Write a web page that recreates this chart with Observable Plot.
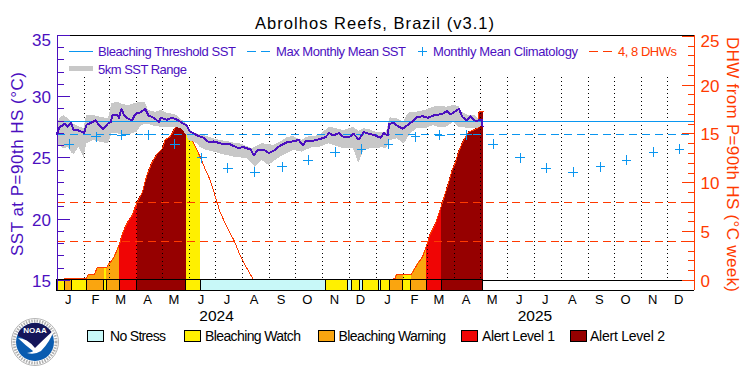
<!DOCTYPE html>
<html><head><meta charset="utf-8">
<script src="https://cdn.jsdelivr.net/npm/d3@7"></script>
<script src="https://cdn.jsdelivr.net/npm/@observablehq/plot@0.6"></script>
<style>html,body{margin:0;padding:0;background:#fff}#c{width:750px;height:375px;overflow:hidden}svg{display:block}</style>
</head><body><div id="c"></div>
<script>
// Days are counted from 2024-01-01.
const sstDays = [0,3,6,9,12,16,19,25,31,34,38,44,48,53,58,62,63,69,71,74,77,82,86,90,96,101,105,111,117,119,126,132,138,144,149,152,161,168,174,180,189,199,207,214,222,226,230,237,243,249,256,264,272,277,282,285,295,302,308,312,317,323,329,337,340,346,352,358,365,371,375,379,381,386,390,396,400,405,413,419,425,432,442,447,451,461,465,470,474,480,487,488];
const sstValues = [26.97,27.52,27.65,27.79,27.57,27.84,27.3,27.24,27.03,27.73,27.84,28.06,27.73,27.33,27.79,27.93,28.47,28.55,28.28,29.01,28.47,28.2,28.06,28.6,28.74,29.01,28.47,28.28,27.93,28.28,28.12,28.28,28.12,27.84,27.65,27.19,26.84,26.65,26.29,26.35,26.16,26.1,25.83,25.88,25.69,25.2,25.67,25.69,25.39,25.61,26.02,26.29,26.37,26.48,26.02,26.37,26.43,26.56,26.7,27.03,26.84,27.03,26.7,26.76,26.97,26.51,27.11,26.97,26.84,26.65,27.03,26.84,27.79,27.87,27.65,27.38,27.57,27.84,28.33,28.41,28.28,28.47,28.6,28.82,28.55,29.01,28.33,28.06,28.39,28.01,28.12,27.57];

const rangeDays = [0,3,8,13,17,20,25,31,34,42,50,59,63,69,75,82,86,92,97,101,105,113,119,126,134,138,143,149,151,157,161,164,172,180,187,195,203,210,218,224,227,235,243,248,256,264,271,281,287,294,302,312,321,329,340,346,352,359,365,373,378,382,390,398,401,405,413,422,432,438,447,455,461,464,472,480,485,488];
const rangeHigh = [27.57,28.2,28.47,28.2,27.93,27.73,27.57,27.38,28.47,28.47,28.33,28.2,29.42,29.56,29.37,29.29,29.37,29.48,29.53,29.56,28.88,28.74,28.88,28.66,28.55,28.47,28.12,27.73,27.38,27.03,26.97,26.89,26.76,26.56,26.43,26.35,26.21,26.16,25.94,25.75,25.88,26.16,26.1,26.02,26.29,26.65,26.76,26.43,26.7,26.76,26.84,27.52,27.38,27.24,27.52,27.19,27.38,27.3,27.11,27.11,27.11,28.28,28.2,27.93,28.47,28.74,28.74,28.88,29.15,29.2,29.15,29.29,29.2,28.74,28.47,28.47,28.0,27.9];
const rangeLow = [26.16,26.02,25.75,25.88,25.39,25.29,25.88,25.07,26.16,26.43,26.29,26.16,26.97,26.97,26.92,26.89,26.97,27.11,27.65,27.73,27.73,27.57,27.52,27.52,27.52,27.46,27.38,26.84,26.43,26.29,26.16,25.88,25.61,25.48,25.34,25.2,25.07,25.01,24.93,24.52,24.25,24.8,24.39,24.66,25.07,25.34,25.61,25.48,25.67,25.88,25.88,26.16,25.94,25.75,25.75,24.58,25.61,25.75,25.75,25.83,25.75,26.43,26.56,26.16,26.43,26.97,27.38,27.38,27.65,27.46,27.52,27.93,27.52,27.52,27.38,27.38,27.5,27.6];

const dhwDays = [8,9,17,34,36,43,46,54,57,59,65,72,75,80,86,92,98,103,109,115,121,124,130,136,140,148,151,157,165,168,176,180,187,195,203,210,218,226,381,382,388,389,397,406,409,413,419,424,428,434,441,448,453,457,461,466,472,480,483,484,489];
const dhwValues = [0,0.24,0.24,0.24,0.64,0.64,1.3,1.3,1.3,1.64,2.3,3.8,4.78,5.8,6.65,8,9.04,10.75,12.1,12.97,13.5,14.4,14.74,15.7,15.8,15.6,15,14,12.5,11.8,10.2,9.04,7,5.45,4.1,2.56,1.2,0,0,0.1,0.2,0.58,0.58,0.58,1.02,1.64,2.4,3.6,4.78,5.8,7.7,9.7,11.25,12.1,13.3,14.3,15.2,15.5,15.6,17.3,17.3];

const climDates = ["01-15","02-15","03-15","04-15","05-15","06-15","07-15","08-15","09-15","10-15","11-15","12-15"];
const climValues = [26.13,26.73,26.86,26.9,26.13,25.0,24.17,23.84,24.28,24.82,25.47,25.72];
const years = [2024,2025];
const monthLetters = ["J","F","M","A","M","J","J","A","S","O","N","D"];

const statusNames = ["No Stress","Bleaching Watch","Bleaching Warning","Alert Level 1","Alert Level 2"];
const statusColors = ["#c8f8f8","#fff000","#faa50f","#f00505","#960000"];
const stripStart = [0,9,17,34,54,57,72,92,148,165,308,334,338,347,351,369,371,382,397,406,424,441];
const stripEnd   = [9,17,34,54,57,72,92,148,165,308,334,338,347,351,369,371,382,397,406,424,441,489];
const stripStatus= [1,2,1,2,1,2,3,4,1,0,1,0,1,0,1,0,1,2,1,2,3,4];

const thresholdSST = 27.96, mmmSST = 26.9, dhwLines = [4,8];
const sstDomain = [14.18,35], dhwDomain = [-1.02,25.08];

const PURPLE="#4b0fbf", BLUE="#0a96f0", RED="#ff3a00", GRAY="#c8c8c8", FONT="Liberation Sans";

const day = d => d3.utcDay.offset(new Date(Date.UTC(2024,0,1)), d);
const toSst = d3.scaleLinear(dhwDomain, sstDomain);
const sst = sstDays.map((d,i)=>({x:day(d),y:sstValues[i]}));
const range = rangeDays.map((d,i)=>({x:day(d),hi:rangeHigh[i],lo:rangeLow[i]}));
const dhw = dhwDays.map((d,i)=>({d,x:day(d),y:toSst(dhwValues[i]),ep:d<300?1:2}));
const clim = years.flatMap(y=>climDates.map((m,i)=>({x:new Date(`${y}-${m}T00:00Z`),y:climValues[i]})));
const strip = stripStart.map((s,i)=>({x1:day(s),x2:day(stripEnd[i]),s:stripStart[i],e:stripEnd[i],status:statusNames[stripStatus[i]]}));
const fills = strip.filter(r=>r.status!=="No Stress").flatMap((r,i)=>
  dhw.filter(p=>p.d>=r.s&&p.d<=r.e).map(p=>({...p,seg:r.s,status:r.status})));
const monthStarts = years.flatMap(y=>monthLetters.map((_,m)=>new Date(Date.UTC(y,m,1)))).slice(1);
const monthMid = years.flatMap(y=>monthLetters.map((_,m)=>new Date(Date.UTC(y,m,14))));
const yearMid = years.map(y=>new Date(Date.UTC(y,6,2)));
const fmtMonth = d=>monthLetters[d.getUTCMonth()];
const dhwTick = t=>Math.abs(Math.round(toSst.invert(t)));
const crisp = {shapeRendering:"crispEdges"};

const chart = Plot.plot({
  width:750,height:375,marginLeft:56.5,marginRight:56,marginTop:35,marginBottom:85,
  style:{fontFamily:FONT,background:"#fff",overflow:"visible"},
  x:{type:"utc",domain:[new Date(Date.UTC(2024,0,1)),new Date(Date.UTC(2026,0,1))],axis:null},
  y:{domain:sstDomain,axis:null},
  color:{domain:statusNames,range:statusColors},
  marks:[
    Plot.areaY(fills,{x:"x",y1:15,y2:"y",z:"seg",fill:"status",...crisp}),
    Plot.ruleX(monthStarts,{y1:31.57,y2:15,stroke:"#000",strokeDasharray:"1 3",...crisp}),
    Plot.line(dhw,{x:"x",y:"y",z:"ep",stroke:RED,strokeWidth:1,...crisp}),
    Plot.areaY(range,{x:"x",y1:"lo",y2:"hi",fill:GRAY,...crisp}),
    Plot.ruleY(dhwLines.map(toSst),{stroke:RED,strokeDasharray:"8 5",...crisp}),
    Plot.ruleY([thresholdSST],{stroke:BLUE,...crisp}),
    Plot.ruleY([mmmSST],{stroke:BLUE,strokeDasharray:"8 5",...crisp}),
    Plot.line(sst,{x:"x",y:"y",stroke:PURPLE,strokeWidth:2,...crisp}),
    Plot.dot(clim,{x:"x",y:"y",symbol:"plus",r:3.2,stroke:BLUE,strokeWidth:1,...crisp}),
    Plot.ruleY([15,35,sstDomain[0]],{stroke:"#000",...crisp}),
    Plot.rect(strip,{x1:"x1",x2:"x2",y1:sstDomain[0],y2:15,fill:"status",stroke:"#000",...crisp}),
    Plot.ruleX([new Date(Date.UTC(2024,0,1))],{stroke:PURPLE,...crisp}),
    Plot.ruleX([new Date(Date.UTC(2026,0,1))],{stroke:RED,...crisp}),
    // left axis
    Plot.axisY(d3.range(15,36),{anchor:"left",tickSize:-7,stroke:PURPLE,text:null,label:null,...crisp}),
    Plot.axisY(d3.range(15,36,5),{anchor:"left",tickSize:-13,stroke:PURPLE,text:null,label:null,...crisp}),
    Plot.axisY([15,20,25,30],{anchor:"left",tickSize:0,tickPadding:6,fill:PURPLE,fontSize:17,label:null,dy:1}),
    Plot.axisY([35],{anchor:"left",tickSize:0,tickPadding:6,fill:PURPLE,fontSize:17,label:null,dy:5}),
    // right axis
    Plot.axisY(d3.range(0,26).map(toSst),{anchor:"right",tickSize:-7,stroke:RED,text:null,label:null,...crisp}),
    Plot.axisY(d3.range(0,26,5).map(toSst),{anchor:"right",tickSize:-13.5,stroke:RED,text:null,label:null,...crisp}),
    Plot.axisY([0,5,10,15,20].map(toSst),{anchor:"right",tickSize:0,tickPadding:6,fill:RED,fontSize:17,label:null,dy:1,tickFormat:dhwTick}),
    Plot.axisY([25].map(toSst),{anchor:"right",tickSize:0,tickPadding:6,fill:RED,fontSize:17,label:null,dy:5,tickFormat:dhwTick}),
    // x axis
    Plot.axisX(monthMid,{anchor:"bottom",tickSize:0,tickPadding:4,fontSize:13,label:null,tickFormat:fmtMonth}),
    Plot.axisX(yearMid,{anchor:"bottom",tickSize:0,tickPadding:19,fontSize:15.5,label:null,tickFormat:d=>String(d.getUTCFullYear())})
  ]
});
document.getElementById("c").append(chart);

// Title, axis titles, legends and logo share the chart's SVG.
const svg = d3.select(chart);
const g = svg.append("g").attr("font-family",FONT).attr("text-anchor","start");
function label(t,x0,x1,yc,size,fill,rot){
  const el=g.append("text").text(t).attr("font-size",size).attr("fill",fill)
    .attr("textLength",Math.abs(x1-x0)).attr("lengthAdjust","spacing").attr("dy","0.35em");
  if(rot) el.attr("transform",`translate(${yc},${x0}) rotate(${rot})`);
  else el.attr("x",x0).attr("y",yc);
}
label("Abrolhos Reefs, Brazil (v3.1)",255,494,23,16.5,"#000");
label("SST at P=90th HS (°C)",256,72,17,17,PURPLE,-90);
label("DHW from P=90th HS (°C week)",37,292,733,17,RED,90);

const seg=(x1,x2,y,stroke,w,dash)=>g.append("line").attr("x1",x1).attr("x2",x2).attr("y1",y).attr("y2",y)
  .attr("stroke",stroke).attr("stroke-width",w).attr("stroke-dasharray",dash||null).attr("shape-rendering","crispEdges");
seg(69,93,51,BLUE,1);
label("Bleaching Threshold SST",98,236,51,13,PURPLE);
seg(247,271,51,BLUE,1,"9 5");
label("Max Monthly Mean SST",276,406,51,13,PURPLE);
seg(418,427,51,BLUE,1); g.append("line").attr("x1",422.5).attr("x2",422.5).attr("y1",46.5).attr("y2",55.5).attr("stroke",BLUE).attr("shape-rendering","crispEdges");
label("Monthly Mean Climatology",433,578,51,13,PURPLE);
seg(589,613,51,RED,1,"9 5");
label("4, 8 DHWs",618,677,51,13,RED);
seg(69,93,68,GRAY,5);
label("5km SST Range",98,187,69,13,PURPLE);

const legendBoxes=[87,183.5,317.5,461,569.5], legendText=[[110,166],[205,301],[338.5,446],[482,555],[590,665]];
statusNames.forEach((n,i)=>{
  g.append("rect").attr("x",legendBoxes[i]+.5).attr("y",330).attr("width",16).attr("height",11).attr("fill",statusColors[i]).attr("stroke","#000").attr("shape-rendering","crispEdges");
  label(n,legendText[i][0],legendText[i][1],336,14,"#000");
});

// NOAA emblem
const logo=svg.append("g").attr("transform","translate(35,342)");
logo.append("circle").attr("r",23.5).attr("fill","#fff").attr("stroke","#b5b5b5").attr("stroke-width",1);
logo.append("circle").attr("r",21).attr("fill","none").attr("stroke","#8a8a8a").attr("stroke-width",3).attr("stroke-dasharray","1.5 1.2").attr("opacity",.7);
logo.append("circle").attr("r",19).attr("fill","#0a5cb0");
logo.append("path").attr("d","M-14,-13 A19,19 0 0 1 14,-13 Q18,-9 17,-6 Q6,-1 0,7 Q-7,-2 -17,-6 Q-18,-9 -14,-13Z").attr("fill","#15165a");
logo.append("path").attr("d","M-17,-4 Q-8,-4 0,6 Q8,-2 19,-12 Q15,0 6,9 Q0,13 -8,11 Q-2,10 -2,9 Q-10,3 -17,-4Z").attr("fill","#fff");
logo.append("text").text("NOAA").attr("text-anchor","middle").attr("y",-9).attr("font-size",8).attr("font-weight",700).attr("font-family",FONT).attr("fill","#fff");
</script></body></html>
